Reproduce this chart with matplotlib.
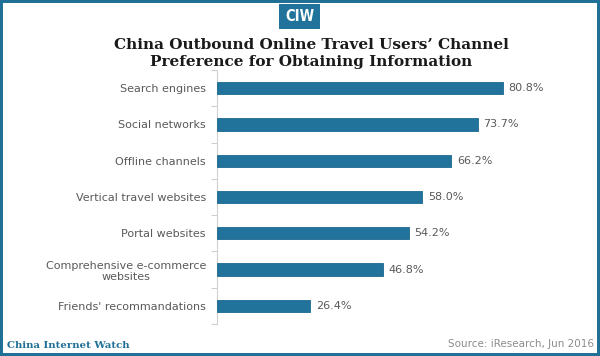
import matplotlib
matplotlib.use("Agg")
import matplotlib.pyplot as plt
from matplotlib.patches import Rectangle

categories = ["Search engines", "Social networks", "Offline channels",
              "Vertical travel websites", "Portal websites",
              "Comprehensive e-commerce\nwebsites", "Friends' recommandations"]
values = [80.8, 73.7, 66.2, 58.0, 54.2, 46.8, 26.4]
value_labels = ["80.8%", "73.7%", "66.2%", "58.0%", "54.2%", "46.8%", "26.4%"]

title_lines = ["China Outbound Online Travel Users\u2019 Channel",
               "Preference for Obtaining Information"]

W, H = 600, 356
fig = plt.figure(figsize=(W / 100, H / 100), dpi=100)
fig.patch.set_facecolor("white")

bar_color = "#21739c"
edge_color = "#1b6890"
frame_color = "#1f6f96"
text_gray = "#595959"

# axes placement (pixels -> figure fraction)
ax_left, ax_right = 217, 571
ax_top, ax_bottom = 70, 324
ax = fig.add_axes([ax_left / W, 1 - ax_bottom / H,
                   (ax_right - ax_left) / W, (ax_bottom - ax_top) / H])

ypos = list(range(len(categories)))
ax.barh(ypos, values, height=0.34, color=bar_color, edgecolor=edge_color,
        linewidth=0.6, zorder=3)
for y, v, lab in zip(ypos, values, value_labels):
    ax.text(v + 1.6, y, lab, va="center", ha="left", fontsize=8,
            color=text_gray, family="DejaVu Sans")

ax.set_xlim(0, 100)
ax.set_ylim(len(categories) - 0.5, -0.5)
ax.set_yticks(ypos)
ax.set_yticklabels(categories, fontsize=8, color=text_gray, family="DejaVu Sans")
for t in ax.get_yticklabels():
    t.set_multialignment("center")
ax.tick_params(axis="y", which="major", length=0, pad=8)
ax.set_yticks([i + 0.5 for i in range(-1, len(categories))], minor=True)
ax.tick_params(axis="y", which="minor", length=4, width=0.8, color="#d0d0d0",
               direction="out")
ax.set_xticks([])
for s in ["top", "right", "bottom"]:
    ax.spines[s].set_visible(False)
ax.spines["left"].set_color("#d0d0d0")
ax.spines["left"].set_linewidth(0.8)

# title
fig.text(311 / W, 1 - 49 / H, title_lines[0], ha="center", va="baseline",
         fontsize=11.0, fontweight="bold", family="DejaVu Serif", color="#1a1a1a")
fig.text(311 / W, 1 - 66 / H, title_lines[1], ha="center", va="baseline",
         fontsize=11.0, fontweight="bold", family="DejaVu Serif", color="#1a1a1a")

# logo
fig.patches.append(Rectangle((279 / W, 1 - 29 / H), 41 / W, 25 / H,
                             transform=fig.transFigure, facecolor="#21739c",
                             edgecolor="none"))
fig.text(299.5 / W, 1 - 16.5 / H, "CIW", ha="center", va="center",
         fontsize=10.5, fontweight="bold", color="white", family="DejaVu Sans",
         fontstretch="condensed")

# footer
fig.text(7 / W, 1 - 348 / H, "China Internet Watch", ha="left", va="baseline",
         fontsize=7.3, fontweight="bold", family="DejaVu Serif", color=frame_color)
fig.text(594 / W, 1 - 347 / H, "Source: iResearch, Jun 2016", ha="right",
         va="baseline", fontsize=7.5, family="DejaVu Sans", color="#8c8c8c")

# frame
fig.patches.append(Rectangle((0, 0), 1, 1, transform=fig.transFigure,
                             facecolor="none", edgecolor=frame_color,
                             linewidth=4.3))

fig.savefig("out.png", dpi=100)
